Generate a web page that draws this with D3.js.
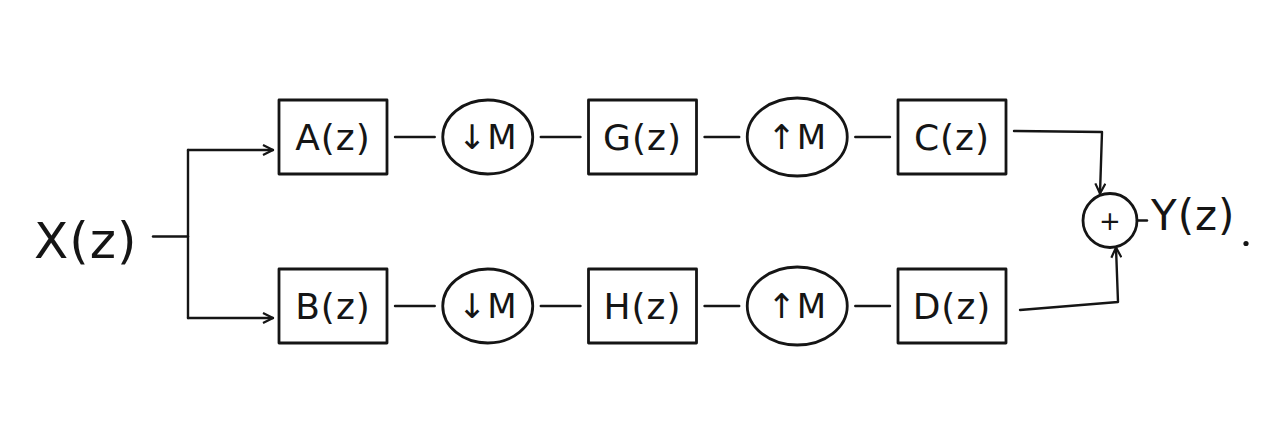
<!DOCTYPE html>
<html lang="en">
<head>
    <meta charset="UTF-8">
    <title>Two-branch multirate filter bank</title>
    <script src="https://cdnjs.cloudflare.com/ajax/libs/d3/7.8.5/d3.min.js"></script>
    <style>
        body { margin: 0; background: #ffffff; }
        text { font-family: "DejaVu Sans", sans-serif; fill: #151515; }
    </style>
</head>
<body>
<script>
    // diagram content
    var stages = ["filterIn", "down", "filterMid", "up", "filterOut"];
    var stageKinds = ["box", "ellipse", "box", "ellipse", "box"];
    var rows = ["top", "bottom"];
    var topLabels = ["A(z)", "↓M", "G(z)", "↑M", "C(z)"];
    var bottomLabels = ["B(z)", "↓M", "H(z)", "↑M", "D(z)"];
    var inputLabel = "X(z)";
    var outputLabel = "Y(z)";
    var sumLabel = "+";

    var width = 1280, height = 423;
    var ink = "#151515";

    var svg = d3.select("body")
        .append("svg")
        .attr("width", width)
        .attr("height", height);

    // arrow head, open chevron like the pen sketch
    svg.append("defs").append("marker")
        .attr("id", "arrow")
        .attr("viewBox", "0 0 12 12")
        .attr("refX", 11).attr("refY", 6)
        .attr("markerWidth", 12).attr("markerHeight", 12)
        .attr("markerUnits", "userSpaceOnUse")
        .attr("orient", "auto")
        .append("path")
        .attr("d", "M1,1 L11,6 L1,11")
        .attr("fill", "none")
        .attr("stroke", ink)
        .attr("stroke-width", 2.2);

    // scales for layout
    var xScale = d3.scalePoint().domain(stages).range([333, 952]);
    var yScale = d3.scalePoint().domain(rows).range([137, 306]);

    var boxW = 108, boxH = 74, gap = 8;
    var ellR = { down: [45, 37], up: [50, 39] };
    var halfW = function(d) { return d.kind === "box" ? boxW / 2 : ellR[d.stage][0]; };

    var rowData = [
        { row: "top", labels: topLabels },
        { row: "bottom", labels: bottomLabels }
    ];

    var stroke = function(sel, w) {
        return sel.attr("fill", "none").attr("stroke", ink)
            .attr("stroke-width", w || 2.6)
            .attr("stroke-linecap", "round").attr("stroke-linejoin", "round");
    };

    rowData.forEach(function(r) {
        var y = yScale(r.row);
        var g = svg.append("g").attr("class", "row-" + r.row);

        var nodes = stages.map(function(s, i) {
            return { stage: s, kind: stageKinds[i], label: r.labels[i], x: xScale(s), y: y };
        });

        // connecting wires between blocks
        for (var i = 0; i < nodes.length - 1; i++) {
            var a = nodes[i], b = nodes[i + 1];
            stroke(g.append("line"), 2.4)
                .attr("x1", a.x + halfW(a) + gap)
                .attr("x2", b.x - halfW(b) - gap)
                .attr("y1", y).attr("y2", y);
        }

        var blocks = g.selectAll("g.block")
            .data(nodes)
            .enter()
            .append("g")
            .attr("class", "block")
            .attr("transform", function(d) { return "translate(" + d.x + "," + d.y + ")"; });

        blocks.filter(function(d) { return d.kind === "box"; })
            .append("rect")
            .attr("x", -boxW / 2).attr("y", -boxH / 2)
            .attr("width", boxW).attr("height", boxH)
            .call(stroke, 2.8);

        blocks.filter(function(d) { return d.kind === "ellipse"; })
            .append("ellipse")
            .attr("rx", function(d) { return ellR[d.stage][0]; })
            .attr("ry", function(d) { return ellR[d.stage][1]; })
            .call(stroke, 2.8);

        blocks.append("text")
            .attr("text-anchor", "middle")
            .attr("dy", "0.36em")
            .style("font-size", function(d) { return d.kind === "box" ? "36px" : "34px"; })
            .style("letter-spacing", "1px")
            .text(function(d) { return d.label; });
    });

    // input side
    var midY = (yScale("top") + yScale("bottom")) / 2;
    var inY = midY + 15;
    var splitX = 188;
    svg.append("text")
        .attr("x", 34).attr("y", inY + 3)
        .attr("dy", "0.36em")
        .style("font-size", "50px")
        .style("letter-spacing", "1px")
        .text(inputLabel);
    stroke(svg.append("line"), 2.4)
        .attr("x1", 153).attr("x2", splitX).attr("y1", inY).attr("y2", inY);
    stroke(svg.append("line"), 2.4)
        .attr("x1", splitX).attr("x2", splitX)
        .attr("y1", yScale("top") + 13).attr("y2", yScale("bottom") + 12);
    rows.forEach(function(r) {
        var yy = yScale(r) + (r === "top" ? 13 : 12);
        stroke(svg.append("line"), 2.4)
            .attr("x1", splitX).attr("x2", xScale(stages[0]) - boxW / 2 - 6)
            .attr("y1", yy).attr("y2", yy)
            .attr("marker-end", "url(#arrow)");
    });

    // summing junction and output
    var sumX = 1110, sumY = midY - 1, sumR = 27;
    var outEdge = xScale(stages[stages.length - 1]) + boxW / 2 + gap;
    stroke(svg.append("circle"), 2.8)
        .attr("cx", sumX).attr("cy", sumY).attr("r", sumR);
    svg.append("text")
        .attr("x", sumX).attr("y", sumY)
        .attr("text-anchor", "middle").attr("dy", "0.36em")
        .style("font-size", "26px")
        .text(sumLabel);

    stroke(svg.append("path"), 2.4)
        .attr("d", d3.line()([[outEdge, yScale("top") - 6], [sumX - 8, yScale("top") - 5], [sumX - 10, sumY - sumR]]))
        .attr("marker-end", "url(#arrow)");
    stroke(svg.append("path"), 2.4)
        .attr("d", d3.line()([[outEdge + 6, yScale("bottom") + 4], [sumX + 8, yScale("bottom") - 4], [sumX + 6, sumY + sumR]]))
        .attr("marker-end", "url(#arrow)");

    stroke(svg.append("line"), 2.4)
        .attr("x1", sumX + sumR).attr("x2", sumX + sumR + 10)
        .attr("y1", sumY).attr("y2", sumY);
    svg.append("text")
        .attr("x", sumX + sumR + 14).attr("y", sumY - 6)
        .attr("dy", "0.36em")
        .style("font-size", "42px")
        .style("letter-spacing", "1px")
        .text(outputLabel);
    svg.append("circle")
        .attr("cx", 1246).attr("cy", sumY + 23).attr("r", 2.6)
        .attr("fill", ink);
</script>
</body>
</html>
